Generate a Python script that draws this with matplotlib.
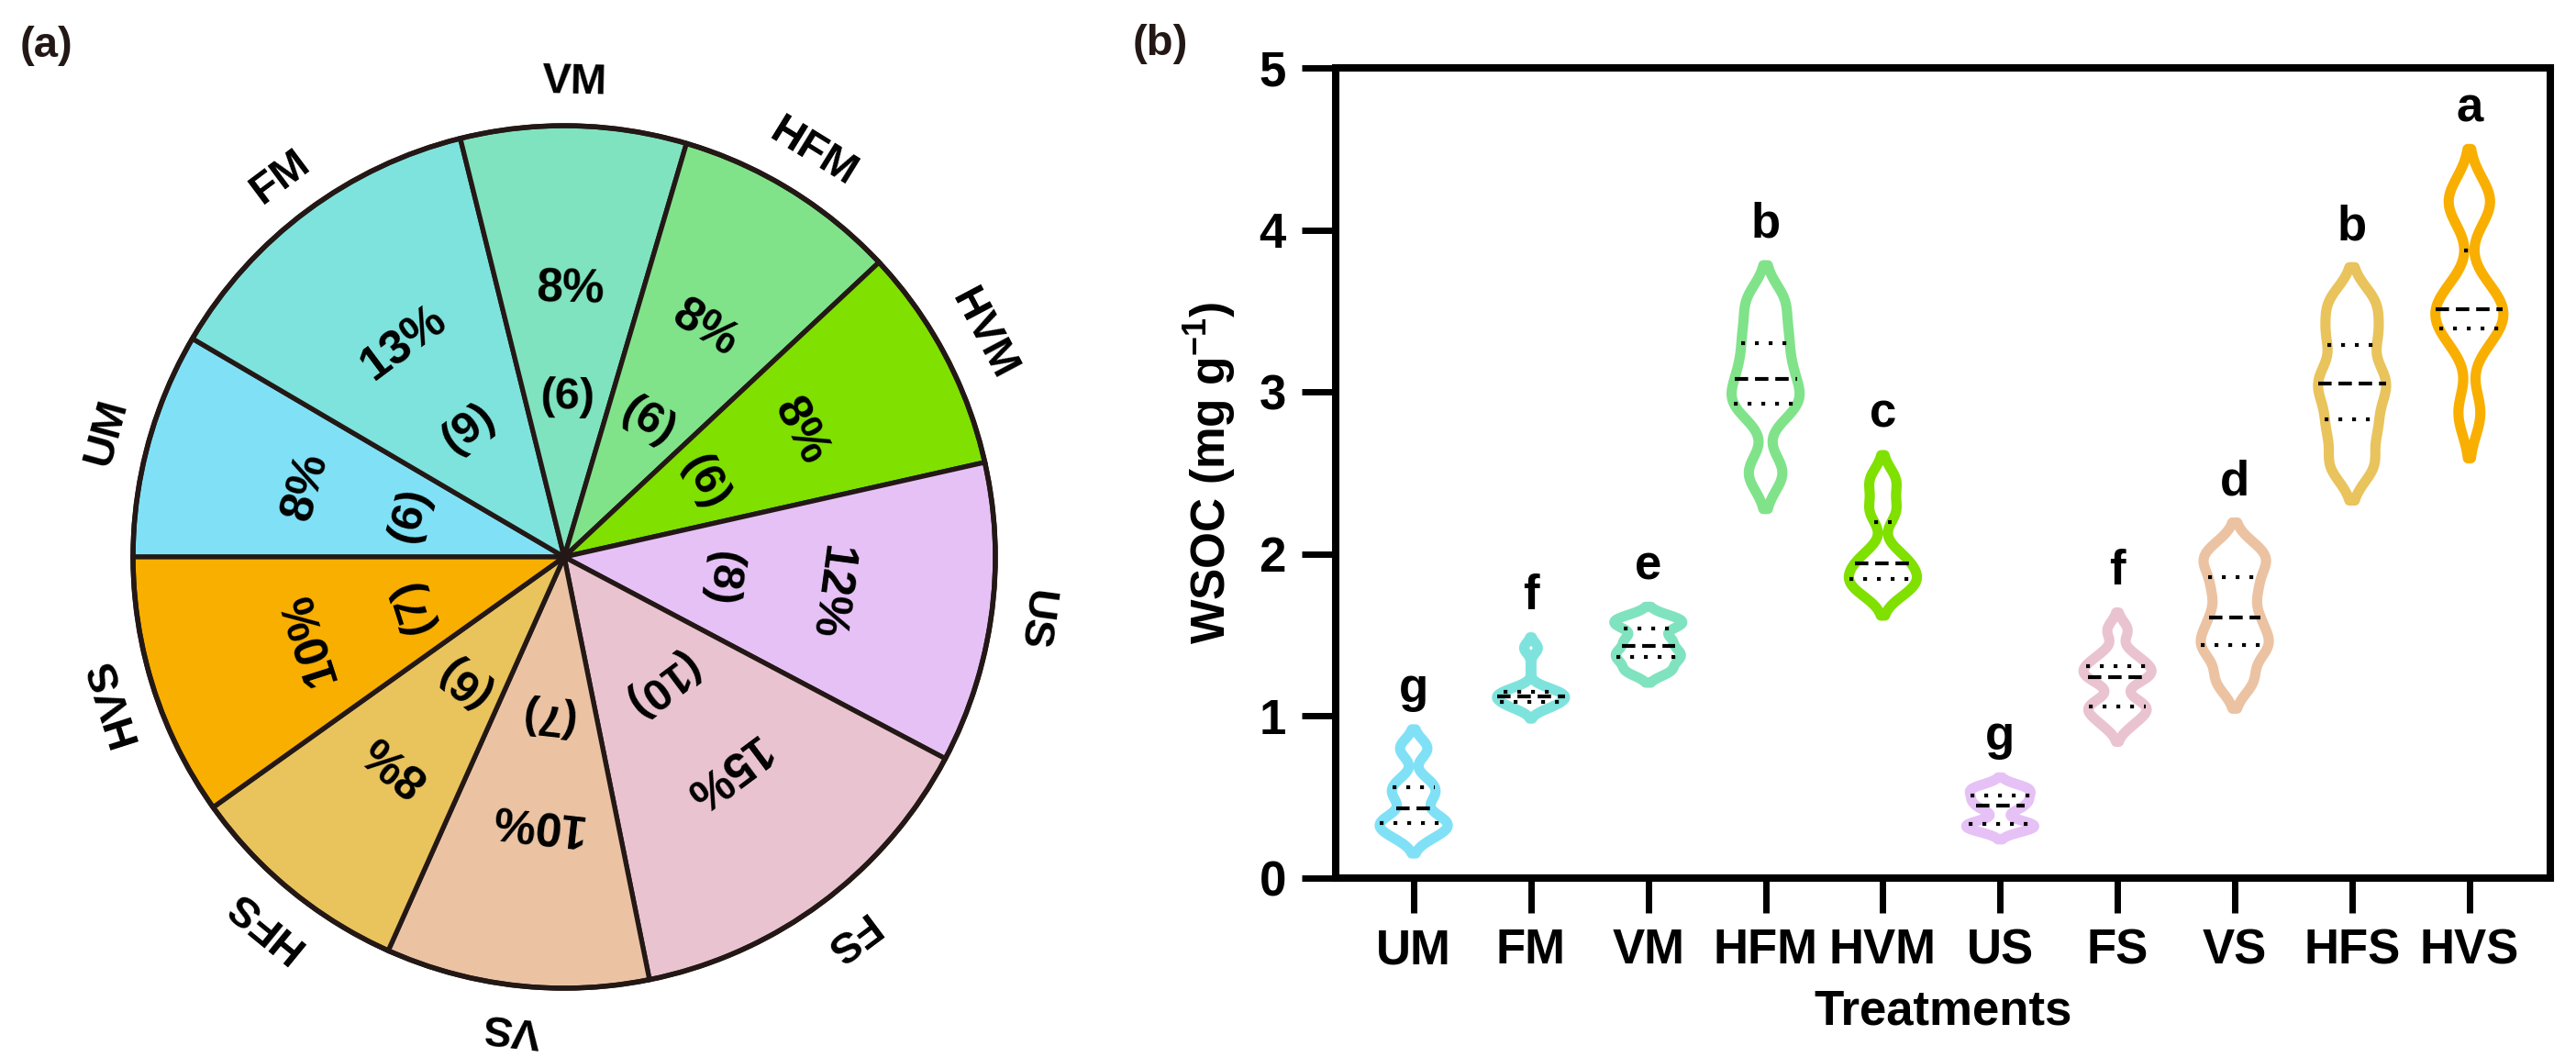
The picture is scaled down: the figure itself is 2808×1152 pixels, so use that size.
# wsoc_figure.py
# (a) pie of sample counts per treatment, (b) WSOC violins per treatment

import numpy as np
import pandas as pd
import matplotlib.pyplot as plt
import seaborn as sns

plt.rcParams['font.family'] = ['Liberation Sans', 'DejaVu Sans']
plt.rcParams['font.weight'] = 'bold'
plt.rcParams['mathtext.fontset'] = 'custom'
plt.rcParams['mathtext.rm'] = 'Liberation Sans'
plt.rcParams['mathtext.bf'] = 'Liberation Sans:bold'

# ── Data ──────────────────────────────────────────────────────────────────────
treatments = ['UM', 'FM', 'VM', 'HFM', 'HVM', 'US', 'FS', 'VS', 'HFS', 'HVS']
colors = ['#80E1F6', '#7FE3DD', '#80E3BF', '#80E38A', '#80E000',
          '#E6C1F6', '#EAC3D1', '#EBC3A3', '#E9C35C', '#F9AF00']

# pie (a)
n_samples  = [6, 9, 6, 6, 6, 8, 10, 7, 6, 7]
pct_labels = ['8%', '13%', '8%', '8%', '8%', '12%', '15%', '10%', '8%', '10%']

# violins (b): WSOC, mg g-1
wsoc_UM  = [0.27, 0.33, 0.36, 0.50, 0.58, 0.80]
wsoc_FM  = [1.05, 1.07, 1.09, 1.11, 1.12, 1.13, 1.15, 1.17, 1.42]
wsoc_VM  = [1.28, 1.35, 1.40, 1.47, 1.56, 1.60]
wsoc_HFM = [2.50, 2.90, 3.00, 3.16, 3.35, 3.56]
wsoc_HVM = [1.78, 1.83, 1.90, 1.98, 2.27, 2.45]
wsoc_US  = [0.30, 0.32, 0.34, 0.43, 0.47, 0.50, 0.54, 0.56]
wsoc_FS  = [0.95, 1.02, 1.05, 1.08, 1.22, 1.26, 1.28, 1.32, 1.38, 1.53]
wsoc_VS  = [1.22, 1.40, 1.48, 1.61, 1.78, 1.93, 2.02]
wsoc_HFS = [2.55, 2.78, 2.98, 3.12, 3.35, 3.55]
wsoc_HVS = [2.87, 3.33, 3.45, 3.51, 3.62, 4.13, 4.22]
letters  = ['g', 'f', 'e', 'b', 'c', 'g', 'f', 'd', 'b', 'a']

wsoc = [wsoc_UM, wsoc_FM, wsoc_VM, wsoc_HFM, wsoc_HVM,
        wsoc_US, wsoc_FS, wsoc_VS, wsoc_HFS, wsoc_HVS]

df = pd.DataFrame({
    'treatment': np.repeat(treatments, [len(v) for v in wsoc]),
    'wsoc': np.concatenate(wsoc),
})

BW = 0.3       # kde bandwidth factor
CUT = 2
INK = '#231815'

fig = plt.figure(figsize=(14.04, 5.76), dpi=200)
W, H = 2808, 1152

# ── (a) pie ───────────────────────────────────────────────────────────────────
cx, cy, R = 615, 607, 470
half = R * 1.3
ax1 = fig.add_axes([(cx - half) / W, (H - cy - half) / H, 2 * half / W, 2 * half / H])
wedges, _ = ax1.pie(n_samples, colors=colors, startangle=180, counterclock=False,
                    radius=1.0,
                    wedgeprops=dict(edgecolor=INK, linewidth=1.9))
ax1.add_patch(plt.Circle((0, 0), 1.0, fill=False, edgecolor=INK, linewidth=2.0))
ax1.set_xlim(-1.3, 1.3)
ax1.set_ylim(-1.3, 1.3)
ax1.set_aspect('equal')
ax1.axis('off')

for w, name, pct, n in zip(wedges, treatments, pct_labels, n_samples):
    mid = np.deg2rad((w.theta1 + w.theta2) / 2)
    rot = np.rad2deg(mid) - 90
    for r, txt, fs in [(1.1, name, 17), (0.62, pct, 18.5), (0.37, f'({n})', 17.5)]:
        ax1.text(r * np.cos(mid), r * np.sin(mid), txt, rotation=rot,
                 rotation_mode='anchor', ha='center', va='center',
                 fontsize=fs, fontweight='bold', color='black')

# ── (b) violins ───────────────────────────────────────────────────────────────
ax2 = fig.add_axes([1456 / W, (H - 957) / H, (2780 - 1456) / W, (957 - 74) / H])
sns.violinplot(data=df, x='treatment', y='wsoc', hue='treatment',
               order=treatments, hue_order=treatments, palette=colors,
               saturation=1, fill=False, inner='quart', cut=CUT,
               bw_method=BW, density_norm='width', width=0.58,
               linewidth=4.0, legend=False,
               inner_kws=dict(color='black', linewidth=1.5), ax=ax2)

# quartiles dotted, median dashed
inner = [ln for ln in ax2.lines if ln.get_color() in ('black', 'k', '#000000')]
for i, ln in enumerate(inner):
    if i % 3 == 1:
        ln.set_dashes((3.5, 1.8))
    else:
        ln.set_dashes((1.0, 2.6))
    ln.set_dash_capstyle('butt')

for i, (vals, lt) in enumerate(zip(wsoc, letters)):
    bw = BW * np.std(vals, ddof=1)
    ax2.text(i, max(vals) + CUT * bw + 0.25, lt, ha='center', va='center',
             fontsize=19, fontweight='bold')

ax2.set_xlim(-0.665, 9.69)
ax2.set_ylim(0, 5)
ax2.set_yticks(range(6))
ax2.set_xticks(range(len(treatments)))
ax2.set_xticklabels(treatments)
for s in ax2.spines.values():
    s.set_visible(True)
    s.set_linewidth(2.9)
    s.set_color('black')
ax2.tick_params(axis='both', length=13.5, width=2.5, direction='out',
                labelsize=19, pad=6)
ax2.set_xlabel('Treatments', fontsize=19, fontweight='bold', labelpad=6)
ax2.set_ylabel(r'WSOC (mg g$^{-1}$)', fontsize=18.5, fontweight='bold', labelpad=8)

fig.text(50 / W, 1 - 50 / H, '(a)', ha='center', va='center',
         fontsize=17, fontweight='bold', color=INK)
fig.text(1265 / W, 1 - 48 / H, '(b)', ha='center', va='center',
         fontsize=17, fontweight='bold', color=INK)

fig.savefig('out.png', dpi=200)
